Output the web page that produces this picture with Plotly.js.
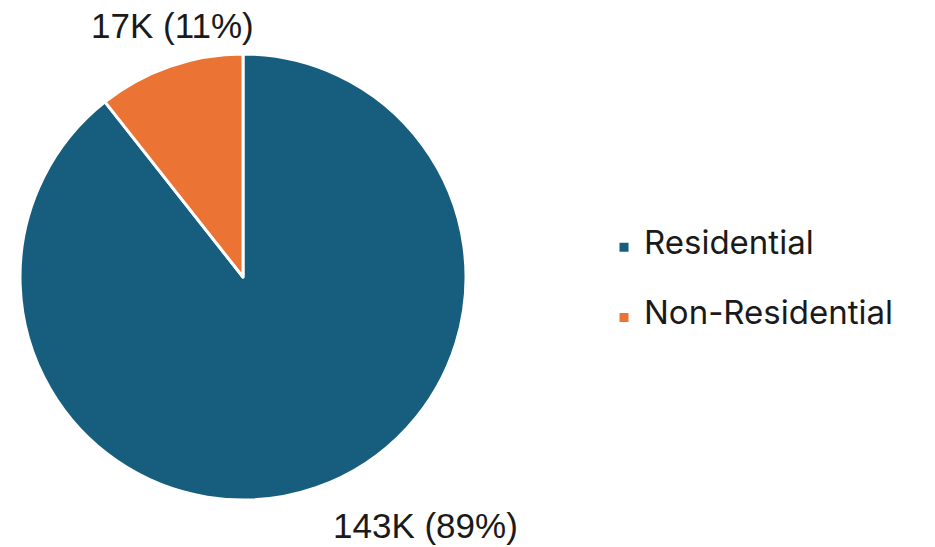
<!DOCTYPE html>
<html>
<head>
<meta charset="utf-8">
<script src="https://cdn.plot.ly/plotly-3.0.1.min.js"></script>
<style>html,body{margin:0;padding:0;background:#fff;}#chart{width:935px;height:547px;}</style>
</head>
<body>
<div id="chart"></div>
<script>
const categories = ["Residential", "Non-Residential"];
const values = [143, 17];
const valueLabels = ["143K", "17K"];
const percentLabels = ["89%", "11%"];
const colors = ["#175e7e", "#eb7434"];

const texts = valueLabels.map((v, i) => v + " (" + percentLabels[i] + ")");

const W = 935, H = 547;
const domX = [20 / W, 466 / W];
const domY = [1 - 500 / H, 1 - 54 / H];

// legend labels: keep the visible text at a larger size while padding each entry's height
const legendLabels = categories.map(c => "\u00a0<br><span style='font-size:33px'>" + c + "</span><br>\u00a0");

// pie geometry (pixels) derived from the domain, used to place the data labels outside slices
const cx = (domX[0] + domX[1]) / 2 * W;
const cy = H - (domY[0] + domY[1]) / 2 * H;
const r = Math.min((domX[1] - domX[0]) * W, (domY[1] - domY[0]) * H) / 2;
const total = values.reduce((a, b) => a + b, 0);
let cum = 0;
const annotations = values.map((v, i) => {
  const mid = (cum + v / 2) / total * 2 * Math.PI; // clockwise from 12 o'clock
  cum += v;
  const px = cx + r * Math.sin(mid);
  const py = cy - r * Math.cos(mid);
  const upper = Math.cos(mid) > 0;
  return {
    x: px / W, y: 1 - py / H, xref: "paper", yref: "paper",
    text: texts[i], showarrow: false, borderpad: 0,
    xanchor: upper ? "center" : "left",
    yanchor: upper ? "bottom" : "top",
    xshift: upper ? 3 : 16,
    yshift: upper ? 20 : -17,
    font: {family: "Liberation Sans, Arial, sans-serif", size: 35, color: "#1a1a1a"}
  };
});

const trace = {
  type: "pie",
  labels: legendLabels,
  values: values,
  textinfo: "none",
  sort: false,
  direction: "clockwise",
  rotation: 0,
  marker: {colors: colors, line: {color: "#ffffff", width: 3}},
  domain: {x: domX, y: domY},
  hoverinfo: "value+percent"
};

const layout = {
  width: W, height: H,
  margin: {l: 0, r: 0, t: 0, b: 0},
  paper_bgcolor: "#ffffff",
  showlegend: true,
  annotations: annotations,
  legend: {
    x: 0.646, xanchor: "left", y: 0.483, yanchor: "middle",
    font: {family: "Inter, Noto Sans, sans-serif", size: 17.2, color: "#1a1a1a"}
  }
};

Plotly.newPlot("chart", [trace], layout, {displayModeBar: false, staticPlot: true});
</script>
</body>
</html>
